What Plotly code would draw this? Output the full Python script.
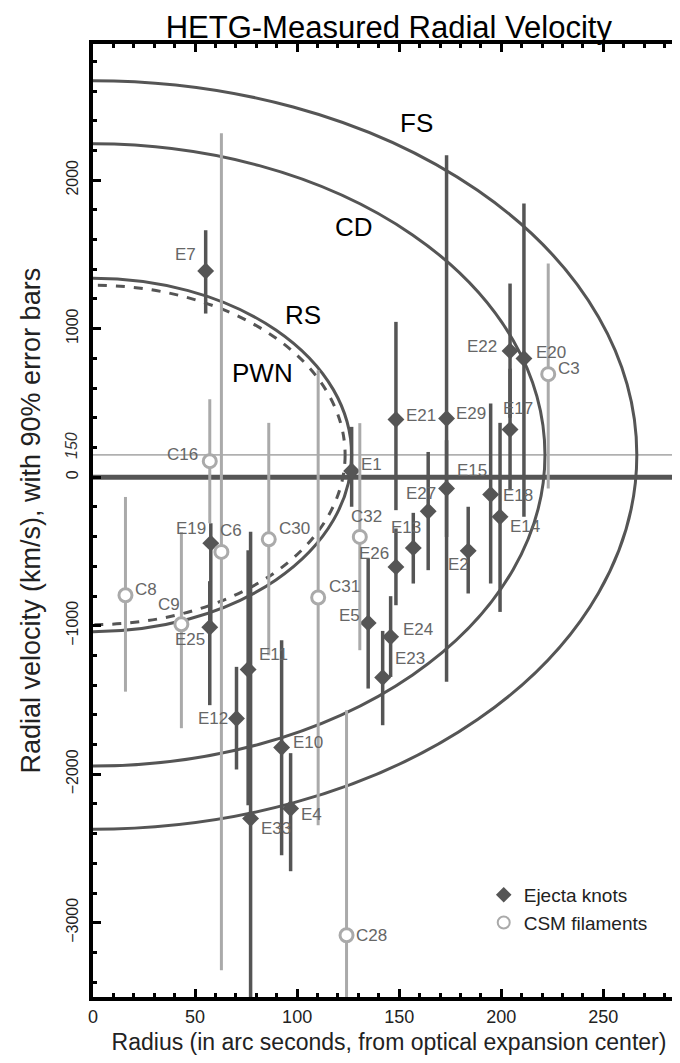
import plotly.graph_objects as go

# ---------------- data ----------------
# Ejecta knots: radius (arcsec), radial velocity (km/s), 90% error-bar upper / lower bounds
ej_names = ["E7", "E1", "E21", "E29", "E15", "E27", "E13", "E26", "E2", "E18", "E14", "E17",
            "E22", "E20", "E5", "E24", "E23", "E19", "E25", "E11", "E33", "E12", "E10", "E4"]
ej_r = [55.2, 126.7, 148.4, 173.2, 173.2, 164.2, 156.9, 148.4, 183.8, 194.8, 199.4, 204.3,
        204.3, 211.1, 134.8, 145.8, 141.9, 57.7, 57.2, 76.0, 77.2, 70.3, 92.4, 96.8]
ej_v = [1389, 42, 389, 395, -76, -229, -476, -604, -496, -116, -267, 321,
        850, 799, -981, -1075, -1349, -444, -1010, -1295, -2298, -1625, -1820, -2231]
ej_hi = [1663, 339, 1046, 2168, 249, 170, -240, -345, -199, 496, 366, 731,
         1304, 1843, -547, -801, -1035, -310, -700, -492, -368, -1277, -1098, -1858]
ej_lo = [1102, -199, -222, -1378, -402, -626, -716, -862, -783, -716, -907, -88,
         400, -267, -1423, -1345, -1670, -1000, -1535, -2209, -3700, -1968, -2545, -2653]

# CSM filaments
csm_names = ["C16", "C6", "C8", "C9", "C30", "C31", "C32", "C3", "C28"]
csm_r = [57.2, 62.9, 15.9, 43.3, 86.1, 110.3, 130.7, 223.0, 124.2]
csm_v = [108, -503, -795, -990, -418, -810, -402, 694, -3084]
csm_hi = [525, 2316, -133, -370, 366, 720, 364, 1439, -1569]
csm_lo = [-310, -3320, -1444, -1690, -1199, -2343, -1165, -76, -3700]

# Shell model ellipses (semi-axes), centred on v = 150 km/s
shell_names = ["FS", "CD", "RS", "PWN"]
shell_r = [266.4, 221.4, 126.7, 123.5]
shell_v = [2520, 2095, 1190, 1143]
v_center = 150
shell_label_r = [158.4, 127.8, 103.0, 82.9]
shell_label_v = [2384, 1684, 1091, 700]

x_ticks = [0, 50, 100, 150, 200, 250]
y_ticks = [-3000, -2000, -1000, 0, 1000, 2000]

# label offsets in pixels (dx right, dy up) -- style only
lab_off = {
    "E7": (-20, 16), "E1": (20, 6), "E21": (25, 4), "E29": (24, 5), "E15": (25, 18),
    "E27": (-7, 18), "E13": (-7, 20), "E26": (-22, 13), "E2": (-10, -14), "E18": (27, -1),
    "E14": (25, -10), "E17": (8, 21), "E22": (-28, 4), "E20": (27, 6), "E5": (-19, 7),
    "E24": (27, 7), "E23": (27, 19), "E19": (-20, 15), "E25": (-20, -12), "E11": (25, 15),
    "E33": (25, -10), "E12": (-24, 0), "E10": (26, 5), "E4": (21, -6),
    "C16": (-27, 7), "C6": (10, 21), "C8": (21, 6), "C9": (-12, 20), "C30": (26, 11),
    "C31": (26, 11), "C32": (7, 20), "C3": (21, 6), "C28": (25, 0),
}

DARK = "#555555"
LIGHT = "#aaaaaa"
FONT = "Liberation Sans, Arial, Helvetica, sans-serif"

fig = go.Figure()

fig.add_trace(go.Scatter(
    x=ej_r, y=ej_v, mode="markers", name="Ejecta knots",
    marker=dict(symbol="diamond", size=13, color=DARK, line=dict(width=0)),
    error_y=dict(type="data", symmetric=False,
                 array=[h - v for h, v in zip(ej_hi, ej_v)],
                 arrayminus=[v - l for l, v in zip(ej_lo, ej_v)],
                 color=DARK, thickness=3.5, width=0),
))
fig.add_trace(go.Scatter(
    x=csm_r, y=csm_v, mode="markers", name="CSM filaments",
    marker=dict(symbol="circle", size=13, color="white", line=dict(width=3, color=LIGHT)),
    error_y=dict(type="data", symmetric=False,
                 array=[h - v for h, v in zip(csm_hi, csm_v)],
                 arrayminus=[v - l for l, v in zip(csm_lo, csm_v)],
                 color=LIGHT, thickness=3, width=0),
))

shapes = []
for name, a, b in zip(shell_names, shell_r, shell_v):
    shapes.append(dict(type="circle", xref="x", yref="y", x0=-a, x1=a,
                       y0=v_center - b, y1=v_center + b, layer="below",
                       line=dict(color=DARK, width=3, dash="dash" if name == "PWN" else "solid")))
# reference velocity line at 150 km/s
shapes.append(dict(type="line", xref="paper", yref="y", x0=0, x1=1, y0=v_center, y1=v_center,
                   layer="below", line=dict(color="#777777", width=1)))
# zero line
shapes.append(dict(type="line", xref="paper", yref="y", x0=0, x1=1, y0=0, y1=0,
                   layer="below", line=dict(color=DARK, width=5)))

annotations = []
for name, r, v in zip(ej_names + csm_names, ej_r + csm_r, ej_v + csm_v):
    dx, dy = lab_off[name]
    annotations.append(dict(x=r, y=v, xref="x", yref="y", text=name, showarrow=False,
                            xshift=dx, yshift=dy, font=dict(family=FONT, size=17, color="#666666")))
for name, r, v in zip(shell_names, shell_label_r, shell_label_v):
    annotations.append(dict(x=r, y=v, xref="x", yref="y", text=name, showarrow=False,
                            font=dict(family=FONT, size=26, color="black")))
annotations.append(dict(x=0, y=v_center, xref="paper", yref="y", text="<i>150</i>", showarrow=False,
                        xanchor="center", yanchor="middle",
                        xshift=-21, yshift=9, textangle=-90,
                        font=dict(family=FONT, size=16, color="#333333")))
# y-axis title
annotations.append(dict(x=0, y=0.5, xref="paper", yref="paper", xanchor="center", yanchor="middle",
                        text="Radial velocity (km/s), with 90% error bars", showarrow=False,
                        xshift=-63, textangle=-90,
                        font=dict(family=FONT, size=27, color="#222222")))

fig.update_layout(
    width=680, height=1063,
    margin=dict(l=85, r=3, t=36, b=74, autoexpand=False),
    paper_bgcolor="white", plot_bgcolor="white",
    title=dict(text="HETG-Measured Radial Velocity", x=0.560, xanchor="center",
               y=0.982, yanchor="middle", yref="container", automargin=False,
               font=dict(family=FONT, size=31, color="black")),
    font=dict(family=FONT, color="black"),
    showlegend=True,
    legend=dict(x=0.660, y=0.127, xanchor="left", yanchor="top", bgcolor="rgba(0,0,0,0)",
                font=dict(family=FONT, size=19, color="#222222"), itemsizing="constant",
                tracegroupgap=2),
    shapes=shapes,
    annotations=annotations,
    xaxis=dict(range=[0, 290], tickvals=x_ticks, ticks="inside", ticklen=8, tickwidth=3,
               tickcolor="black", showline=True, linewidth=4, linecolor="black", mirror="allticks",
               showgrid=False, zeroline=False, automargin=False,
               minor=dict(dtick=10, ticks="inside", ticklen=4, tickwidth=3, tickcolor="black"),
               tickfont=dict(family=FONT, size=18, color="#222222"),
               title=dict(text="Radius (in arc seconds, from optical expansion center)",
                          font=dict(family=FONT, size=23, color="#222222"), standoff=9)),
    yaxis=dict(range=[-3500, 2917], tickvals=y_ticks, ticks="inside", ticklen=8, tickwidth=3,
               tickcolor="black", showline=True, linewidth=4, linecolor="black", mirror="allticks",
               showgrid=False, zeroline=False, tickangle=-90, automargin=False,
               ticklabelstandoff=5,
               minor=dict(dtick=200, ticks="inside", ticklen=4, tickwidth=3, tickcolor="black"),
               tickfont=dict(family=FONT, size=16, color="#222222")),
)

fig.write_html("out.html")
